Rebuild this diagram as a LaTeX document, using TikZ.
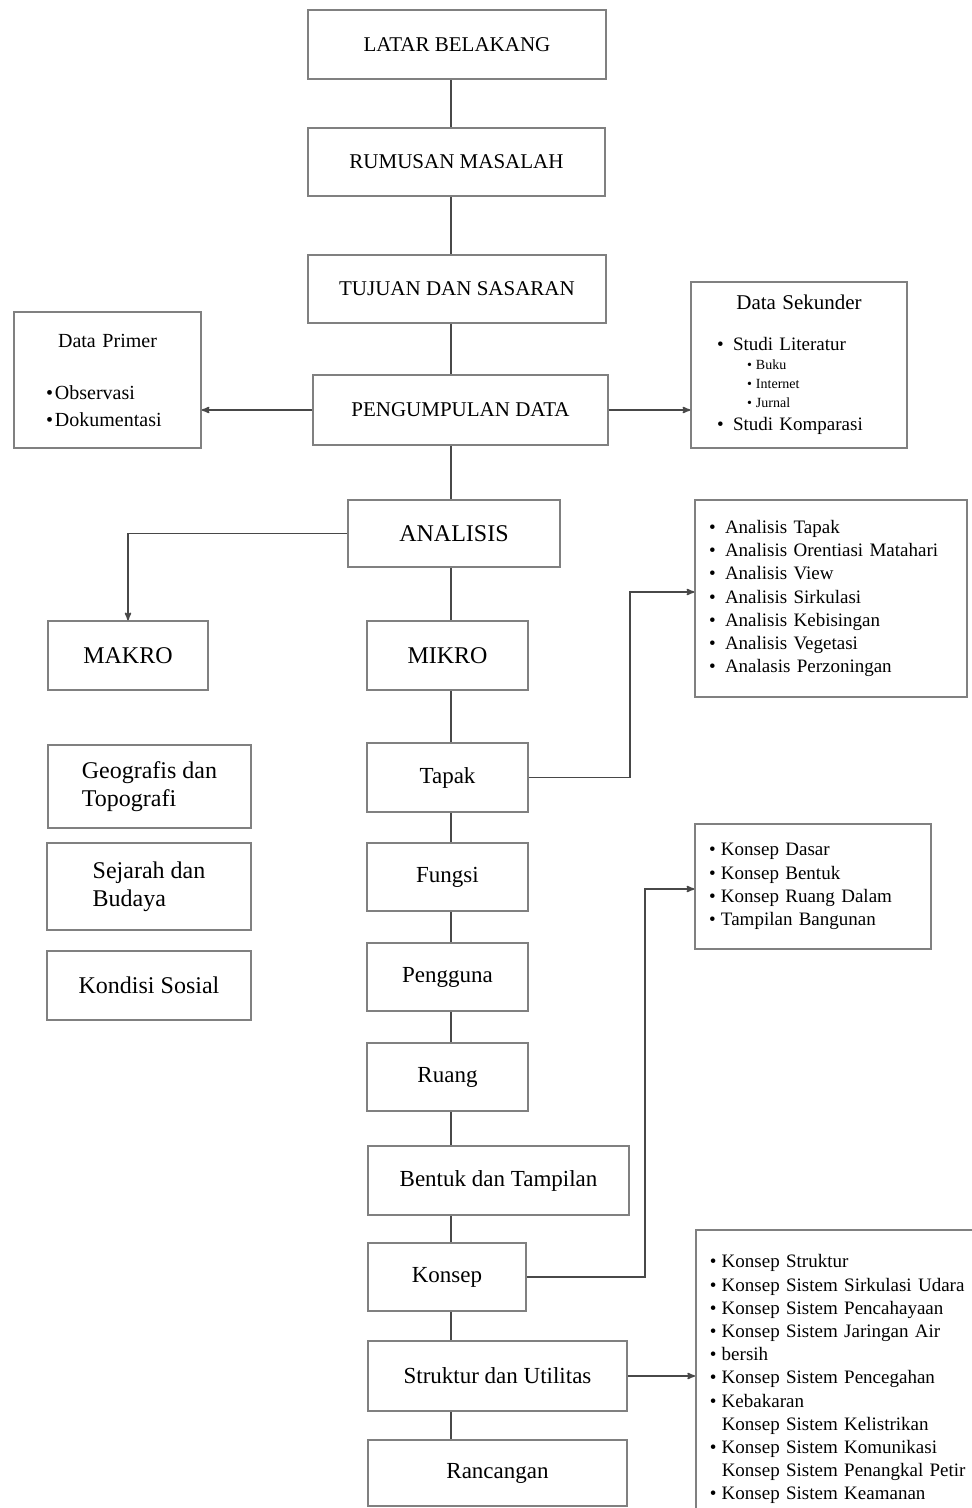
\documentclass[tikz,border=0pt]{standalone}
\usepackage{fontspec}
\setmainfont{Liberation Serif}
\usepackage{tikz}
\usetikzlibrary{arrows}

\definecolor{boxgray}{RGB}{128,128,128}
\definecolor{linegray}{RGB}{72,72,72}
\newcommand{\bul}{\makebox[16pt][l]{\textbullet}}
\newcommand{\kbul}{\makebox[12pt][l]{\textbullet}}
\newcommand{\sbul}{\makebox[9pt][l]{\textbullet}}

\begin{document}
\begin{tikzpicture}[x=1pt,y=-1pt,>=stealth',auto]
        \tikzstyle{box}=[rectangle,draw=boxgray,line width=1.5pt,inner sep=0pt,font=\fontsize{23}{28}\selectfont]
        \tikzstyle{titlebox}=[box,font=\fontsize{21}{25}\selectfont]
        \tikzstyle{bigbox}=[box,font=\fontsize{24}{28}\selectfont]
        \tikzstyle{listbox}=[rectangle,draw=boxgray,line width=1.5pt,inner xsep=14pt,align=left,font=\fontsize{19}{23.2}\selectfont]
        \tikzstyle{link}=[draw=linegray,line width=1.6pt]
        \useasboundingbox (0,0) rectangle (972,1508);
        \coordinate (axis) at (451,0);
        % main column
        \node[titlebox,minimum width=298pt,minimum height=69pt] (lb) at (457,44.5) {LATAR BELAKANG};
        \node[titlebox,minimum width=297pt,minimum height=68pt] (rm) at (456.5,162) {RUMUSAN MASALAH};
        \node[titlebox,minimum width=298pt,minimum height=68pt] (ts) at (457,289) {TUJUAN DAN SASARAN};
        \node[titlebox,minimum width=295pt,minimum height=70pt] (pd) at (460.5,410) {PENGUMPULAN DATA};
        \node[bigbox,minimum width=212pt,minimum height=67pt] (an) at (454,533.5) {ANALISIS};
        \node[bigbox,minimum width=161pt,minimum height=69pt] (mik) at (447.5,655.5) {MIKRO};
        \node[box,minimum width=161pt,minimum height=69pt] (tp) at (447.5,777.5) {Tapak};
        \node[box,minimum width=161pt,minimum height=68pt] (fu) at (447.5,877) {Fungsi};
        \node[box,minimum width=161pt,minimum height=68pt] (pg) at (447.5,977) {Pengguna};
        \node[box,minimum width=161pt,minimum height=68pt] (ru) at (447.5,1077) {Ruang};
        \node[box,minimum width=261pt,minimum height=69pt] (bt) at (498.5,1180.5) {Bentuk dan Tampilan};
        \node[box,minimum width=158pt,minimum height=68pt] (ks) at (447,1277) {Konsep};
        \node[box,minimum width=259pt,minimum height=70pt] (su) at (497.5,1376) {Struktur dan Utilitas};
        \node[box,minimum width=259pt,minimum height=66pt] (rc) at (497.5,1473) {Rancangan};
        % data
        \node[listbox,text width=123pt,inner xsep=32pt,minimum height=136pt,font=\fontsize{20}{27}\selectfont] (dp) at (107.5,380)
            {{\centering Data Primer\par}\vspace{25pt}\sbul Observasi\\\sbul Dokumentasi};
        \node[listbox,text width=164pt,inner xsep=26pt,minimum height=166pt] (ds) at (799,365)
            {{\centering\fontsize{21}{25}\selectfont Data Sekunder\par}\vspace{18pt}\bul Studi Literatur\par
            {\fontsize{14}{19}\selectfont\hspace*{30pt}\sbul Buku\par\hspace*{30pt}\sbul Internet\par\hspace*{30pt}\sbul Jurnal\par}
            \bul Studi Komparasi};
        % makro
        \node[bigbox,minimum width=160pt,minimum height=69pt] (mak) at (128,655.5) {MAKRO};
        \node[bigbox,align=left,minimum width=203pt,minimum height=83pt] (geo) at (149.5,786.5) {Geografis dan\\Topografi};
        \node[bigbox,align=left,minimum width=204pt,minimum height=87pt] (sej) at (149,886.5) {Sejarah dan\\Budaya};
        \node[bigbox,minimum width=204pt,minimum height=69pt] (kso) at (149,985.5) {Kondisi Sosial};
        % lists
        \node[listbox,text width=244pt,minimum height=197pt] (la) at (831,598.5)
            {\bul Analisis Tapak\\\bul Analisis Orentiasi Matahari\\\bul Analisis View\\\bul Analisis Sirkulasi\\
             \bul Analisis Kebisingan\\\bul Analisis Vegetasi\\\bul Analasis Perzoningan};
        \node[listbox,text width=208pt,minimum height=125pt] (lk) at (813,886.5)
            {\kbul Konsep Dasar\\\kbul Konsep Bentuk\\\kbul Konsep Ruang Dalam\\\kbul Tampilan Bangunan};
        \node[listbox,text width=262pt,inner ysep=25pt,anchor=north west] (ls) at (695,1229)
            {\kbul Konsep Struktur\\\kbul Konsep Sistem Sirkulasi Udara\\\kbul Konsep Sistem Pencahayaan\\
             \kbul Konsep Sistem Jaringan Air\\\kbul bersih\\\kbul Konsep Sistem Pencegahan\\\kbul Kebakaran\\
             \hspace*{12pt}Konsep Sistem Kelistrikan\\\kbul Konsep Sistem Komunikasi\\
             \hspace*{12pt}Konsep Sistem Penangkal Petir\\\kbul Konsep Sistem Keamanan};
        % connectors
        \draw[link] (lb.south -| axis) -- (rm.north -| axis);
        \draw[link] (rm.south -| axis) -- (ts.north -| axis);
        \draw[link] (ts.south -| axis) -- (pd.north -| axis);
        \draw[link] (pd.south -| axis) -- (an.north -| axis);
        \draw[link] (an.south -| axis) -- (mik.north -| axis);
        \draw[link] (mik.south -| axis) -- (tp.north -| axis);
        \draw[link] (tp.south -| axis) -- (fu.north -| axis);
        \draw[link] (fu.south -| axis) -- (pg.north -| axis);
        \draw[link] (pg.south -| axis) -- (ru.north -| axis);
        \draw[link] (ru.south -| axis) -- (bt.north -| axis);
        \draw[link] (bt.south -| axis) -- (ks.north -| axis);
        \draw[link] (ks.south -| axis) -- (su.north -| axis);
        \draw[link] (su.south -| axis) -- (rc.north -| axis);
        \draw[link,->] (pd.west) -- (pd.west -| dp.east);
        \draw[link,->] (pd.east) -- (pd.east -| ds.west);
        \draw[link,->] (an.west) -| (mak.north);
        \coordinate (tpturn) at (630,592);
        \draw[link,->] (tp.east) -| (tpturn) -- (tpturn -| la.west);
        \coordinate (ksturn) at (645,889);
        \draw[link,->] (ks.east) -| (ksturn) -- (ksturn -| lk.west);
        \draw[link,->] (su.east) -- (su.east -| ls.west);
\end{tikzpicture}
\end{document}
